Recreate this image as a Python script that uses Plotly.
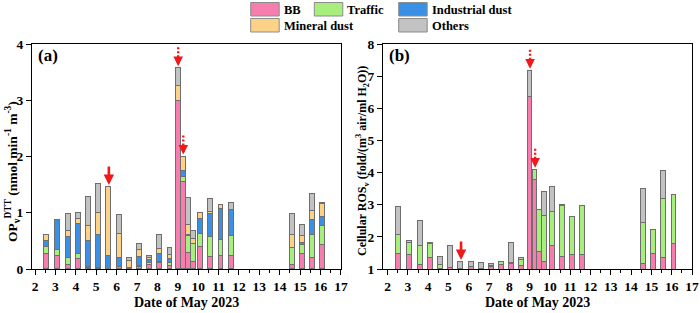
import plotly.graph_objects as go

# ---------------- data ----------------
sample_day = [2.55, 3.1, 3.62, 4.12, 4.62, 5.12, 5.62, 6.12, 6.62, 7.12, 7.62, 8.12, 8.62,
              9.02, 9.27, 9.51, 9.75, 10.12, 10.62, 11.12, 11.62, 14.62, 15.12, 15.62, 16.12]

op_bb = [0.26, 0.23, 0.07, 0.18, 0.01, 0.01, 0.0, 0.03, 0.005, 0.04, 0.07, 0.10, 0.06,
         2.99, 1.55, 0.28, 0.12, 0.40, 0.22, 0.24, 0.24, 0.08, 0.26, 0.19, 0.43]
op_traffic = [0.14, 0.10, 0.13, 0.09, 0.02, 0.0, 0.0, 0.01, 0.0, 0.02, 0.03, 0.02, 0.04,
              0.0, 0.08, 0.31, 0.33, 0.23, 0.35, 0.27, 0.35, 0.29, 0.17, 0.41, 0.34]
op_industrial = [0.10, 0.54, 0.37, 0.53, 0.47, 0.60, 0.24, 0.16, 0.02, 0.16, 0.06, 0.14, 0.07,
                 0.0, 0.11, 0.01, 0.0, 0.26, 0.40, 0.56, 0.46, 0.0, 0.04, 0.27, 0.16]
op_mineral = [0.10, 0.0, 0.11, 0.09, 0.27, 0.39, 1.22, 0.43, 0.12, 0.12, 0.03, 0.09, 0.08,
              0.27, 0.26, 0.19, 0.08, 0.11, 0.04, 0.06, 0.0, 0.23, 0.11, 0.17, 0.23]
op_others = [0.0, 0.0, 0.30, 0.11, 0.51, 0.51, 0.0, 0.33, 0.05, 0.11, 0.04, 0.26, 0.12,
             0.31, 0.0, 0.47, 0.15, 0.0, 0.23, 0.0, 0.13, 0.38, 0.20, 0.29, 0.01]

ROS_BASELINE = 1.0
ros_bb = [0.47, 0.43, 0.12, 0.33, 0.01, 0.02, 0.0, 0.07, 0.0, 0.07, 0.11, 0.17, 0.10,
          5.35, 2.78, 0.53, 0.22, 0.72, 0.38, 0.43, 0.44, 0.16, 0.47, 0.35, 0.78]
ros_traffic = [0.59, 0.38, 0.59, 0.45, 0.12, 0.0, 0.0, 0.0, 0.0, 0.02, 0.10, 0.02, 0.18,
               0.0, 0.31, 1.32, 1.42, 1.04, 1.59, 1.18, 1.53, 1.27, 0.75, 1.83, 1.51]
ros_others = [0.87, 0.06, 0.78, 0.03, 0.23, 0.71, 0.22, 0.15, 0.19, 0.07, 0.0, 0.62, 0.05,
              0.82, 0.0, 0.0, 0.75, 0.80, 0.01, 0.0, 0.0, 1.07, 0.0, 0.86, 0.0]

x_ticks = list(range(2, 18))
sources = ["BB", "Traffic", "Industrial dust", "Mineral dust", "Others"]
colors = {"BB": "#F57EAE", "Traffic": "#A7EE7C", "Industrial dust": "#3A8FE6",
          "Mineral dust": "#FBD287", "Others": "#C2C2C2"}

# arrows: (panel, bar index, style)
arrow_marks = [("a", 6, "solid"), ("a", 13, "dot"), ("a", 14, "dot"),
               ("b", 6, "solid"), ("b", 13, "dot"), ("b", 14, "dot")]

FONT = "Liberation Serif"
RED = "#F01818"
BAR_W = 0.24
EDGE = dict(color="#6E6E6E", width=1)

W, H = 700.0, 313.0
ML, MR, MT, MB = 32, 8, 44, 44
PW, PH = W - ML - MR, H - MT - MB


def px_x(p):
    return (p - ML) / PW


def px_y(p):
    return (H - MB - p) / PH


fig = go.Figure()

op_series = {"BB": op_bb, "Traffic": op_traffic, "Industrial dust": op_industrial,
             "Mineral dust": op_mineral, "Others": op_others}
for name in sources:
    fig.add_trace(go.Bar(x=sample_day, y=op_series[name], width=BAR_W, name=name,
                         marker=dict(color=colors[name], line=EDGE),
                         xaxis="x", yaxis="y", showlegend=False))

ros_series = {"BB": [ROS_BASELINE + v for v in ros_bb], "Traffic": ros_traffic,
              "Others": ros_others}
for name in ["BB", "Traffic", "Others"]:
    fig.add_trace(go.Bar(x=sample_day, y=ros_series[name], width=BAR_W, name=name,
                         marker=dict(color=colors[name], line=EDGE),
                         xaxis="x2", yaxis="y2", showlegend=False))

axis_common = dict(showline=True, linecolor="black", linewidth=1.3, mirror=True,
                   ticks="outside", ticklen=5, tickwidth=1.3, tickcolor="black",
                   showgrid=False, zeroline=False, automargin=False,
                   tickfont=dict(family=FONT, size=13.5, color="black", weight="bold"))

xcommon = dict(axis_common, tickmode="array", tickvals=x_ticks,
               minor=dict(dtick=0.5, ticklen=3, ticks="outside", tickcolor="black",
                          tickwidth=1))

fig.update_layout(
    width=W, height=H,
    paper_bgcolor="white", plot_bgcolor="white",
    font=dict(family=FONT, color="black", weight="bold"),
    margin=dict(l=ML, r=MR, t=MT, b=MB, autoexpand=False),
    barmode="stack", bargap=0,
    xaxis=dict(xcommon, domain=[0.0, 0.468], anchor="y", range=[1.85, 17]),
    yaxis=dict(axis_common, range=[0, 4], dtick=1, anchor="x"),
    xaxis2=dict(xcommon, domain=[0.532, 1.0], anchor="y2", range=[1.78, 17]),
    yaxis2=dict(axis_common, range=[1, 8], dtick=1, anchor="x2"),
)

# axis titles as annotations
for xr in ["x domain", "x2 domain"]:
    fig.add_annotation(text="Date of May 2023", xref=xr, yref="paper", x=0.5,
                       y=px_y(302), xanchor="center", yanchor="middle",
                       showarrow=False,
                       font=dict(family=FONT, size=14, color="black", weight="bold"))

fig.add_annotation(text="OP<sub>v</sub><sup>DTT</sup> (nmol min<sup>-1</sup> m<sup>-3</sup>)",
                   xref="paper", yref="paper", x=px_x(12), y=px_y(172), textangle=-90,
                   xanchor="center", yanchor="middle", showarrow=False,
                   font=dict(family=FONT, size=13.5, color="black", weight="bold"))
fig.add_annotation(text="Cellular ROS<sub>v</sub> (fold/(m<sup>3</sup> air/ml H<sub>2</sub>O))",
                   xref="paper", yref="paper", x=px_x(362), y=px_y(161), textangle=-90,
                   xanchor="center", yanchor="middle", showarrow=False,
                   font=dict(family=FONT, size=12, color="black", weight="bold"))

# panel labels
for lab, xr in [("(a)", "x domain"), ("(b)", "x2 domain")]:
    fig.add_annotation(text=lab, xref=xr, yref="paper", x=0.012, y=0.998,
                       xanchor="left", yanchor="top", showarrow=False,
                       font=dict(family=FONT, size=17, color="black", weight="bold"))

# arrows
op_tot = [sum(v) for v in zip(op_bb, op_traffic, op_industrial, op_mineral, op_others)]
ros_tot = [ROS_BASELINE + sum(v) for v in zip(ros_bb, ros_traffic, ros_others)]
for panel, i, style in arrow_marks:
    xr, yr = ("x", "y") if panel == "a" else ("x2", "y2")
    tot = op_tot[i] if panel == "a" else ros_tot[i]
    xv = sample_day[i]
    if style == "solid":
        fig.add_annotation(x=xv, y=tot, xref=xr, yref=yr, ax=0, ay=-22, showarrow=True,
                           arrowhead=2, arrowsize=0.8, arrowwidth=2.6, arrowcolor=RED,
                           standoff=2, text="")
    else:
        fig.add_annotation(x=xv, y=tot, xref=xr, yref=yr, ax=0, ay=-10, showarrow=True,
                           arrowhead=2, arrowsize=0.8, arrowwidth=2.4, arrowcolor=RED,
                           standoff=2, text="")
        fig.add_shape(type="line", xref=xr, yref=yr, x0=xv, x1=xv,
                      ysizemode="pixel", yanchor=tot, y0=11, y1=21,
                      line=dict(color=RED, width=2.4, dash="2px,2px"))

# manual legend (paper coordinates)
legend_items = [("BB", 250.7, 2.5), ("Traffic", 314.3, 2.5), ("Industrial dust", 398.7, 2.5),
                ("Mineral dust", 250.7, 18.5), ("Others", 398.7, 18.5)]
for name, px, py in legend_items:
    fig.add_shape(type="rect", xref="paper", yref="paper",
                  x0=px_x(px), x1=px_x(px + 28.5),
                  y0=px_y(py + 13.5), y1=px_y(py),
                  fillcolor=colors[name], line=dict(color="#8C8C8C", width=1))
    fig.add_annotation(text=name, xref="paper", yref="paper",
                       x=px_x(px + 31), y=px_y(py + 7),
                       xanchor="left", yanchor="middle", showarrow=False,
                       font=dict(family=FONT, size=12.5, color="black", weight="bold"))

fig.write_html("out.html", config={"displayModeBar": False},
               post_script="document.body.style.margin='0px';document.body.style.padding='0px';")
